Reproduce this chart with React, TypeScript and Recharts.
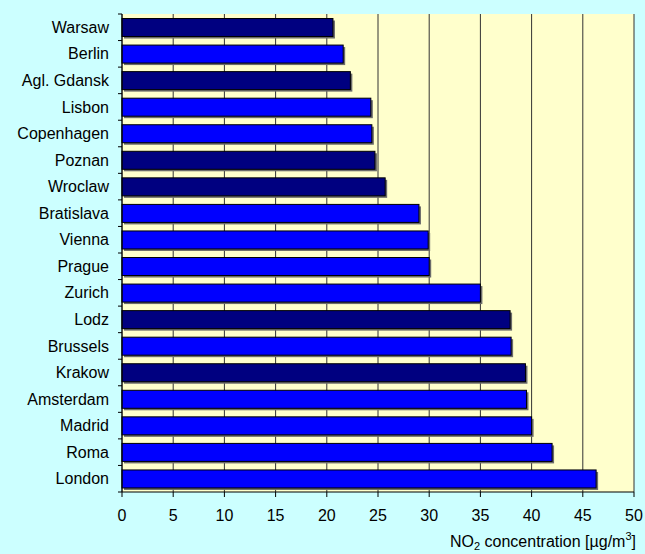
import React from 'react';
import {
  BarChart, Bar, XAxis, YAxis, CartesianGrid, Cell,
} from 'recharts';

const cities = [
  'Warsaw', 'Berlin', 'Agl. Gdansk', 'Lisbon', 'Copenhagen', 'Poznan', 'Wroclaw',
  'Bratislava', 'Vienna', 'Prague', 'Zurich', 'Lodz', 'Brussels', 'Krakow',
  'Amsterdam', 'Madrid', 'Roma', 'London',
];
const no2 = [
  20.6, 21.6, 22.3, 24.3, 24.4, 24.7, 25.7,
  29.0, 29.9, 30.0, 35.0, 37.9, 38.0, 39.4,
  39.5, 40.0, 42.0, 46.3,
];
const navyCities = ['Warsaw', 'Agl. Gdansk', 'Poznan', 'Wroclaw', 'Lodz', 'Krakow'];
const xTicks = [0, 5, 10, 15, 20, 25, 30, 35, 40, 45, 50];

const W = 645;
const H = 554;
const MARGIN = { top: 14, right: 11, bottom: 0, left: 0 };
const Y_W = 122;
const X_H = 62;
const BAND = (H - MARGIN.top - MARGIN.bottom - X_H) / cities.length;
const FONT = '"Liberation Sans", Arial, sans-serif';

const data = cities.map((city, i) => ({ city, value: no2[i] }));

const ShadowBar = (props: any) => {
  const { x, y, width, height, fill } = props;
  if (!width || width <= 0) return null;
  return (
    <g>
      <rect x={x + 2} y={y + 2} width={width} height={height} fill="#6b6b6b" />
      <rect x={x} y={y} width={width} height={height} fill={fill} stroke="#000" strokeWidth={1} />
    </g>
  );
};

// category labels, with tick marks at the band boundaries (Excel style)
const CityTick = (props: any) => {
  const { x, y, payload, index } = props;
  const lx = x + 9;
  return (
    <g>
      <line x1={lx} x2={lx + 4} y1={y - BAND / 2} y2={y - BAND / 2} stroke="#000" />
      {index === cities.length - 1 && (
        <line x1={lx} x2={lx + 4} y1={y + BAND / 2} y2={y + BAND / 2} stroke="#000" />
      )}
      <text x={x} y={y} dy="0.35em" textAnchor="end" fontSize={16}
            fontFamily={FONT} fill="#000">
        {payload.value}
      </text>
    </g>
  );
};

const AxisTitle = ({ viewBox }: any) => {
  const right = viewBox.x + viewBox.width + 2;
  const base = viewBox.y + viewBox.height - 7;
  return (
    <text x={right} y={base} textAnchor="end" fontSize={16} fontFamily={FONT} fill="#000">
      NO<tspan fontSize={11} dy={3}>2</tspan>
      <tspan dy={-3}> concentration [µg/m</tspan>
      <tspan fontSize={11} dy={-7}>3</tspan>
      <tspan dy={7}>]</tspan>
    </text>
  );
};

export default function App() {
  return (
    <div style={{ position: 'absolute', left: 0, top: 0, width: W, height: H, background: '#CCFFFF' }}>
      <BarChart width={W} height={H} data={data} layout="vertical" margin={MARGIN}
                barCategoryGap="17%">
        <CartesianGrid horizontal={false} stroke="#333" fill="#FFFFCC" fillOpacity={1} />
        <XAxis type="number" domain={[0, 50]} ticks={xTicks} height={X_H}
               tickSize={5} tickMargin={13} stroke="#000"
               tick={{ fill: '#000', fontSize: 16, fontFamily: FONT }}
               label={<AxisTitle />} />
        <XAxis xAxisId="top" orientation="top" type="number" domain={[0, 50]} height={0}
               tick={false} tickLine={false} axisLine={{ stroke: '#000' }} />
        <YAxis type="category" dataKey="city" width={Y_W} tickLine={false}
               tickSize={4} tickMargin={9} axisLine={{ stroke: '#000' }}
               interval={0} tick={<CityTick />} />
        <Bar dataKey="value" isAnimationActive={false} shape={<ShadowBar />}>
          {data.map((d) => (
            <Cell key={d.city} fill={navyCities.includes(d.city) ? '#000080' : '#0000FF'} />
          ))}
        </Bar>
      </BarChart>
    </div>
  );
}
